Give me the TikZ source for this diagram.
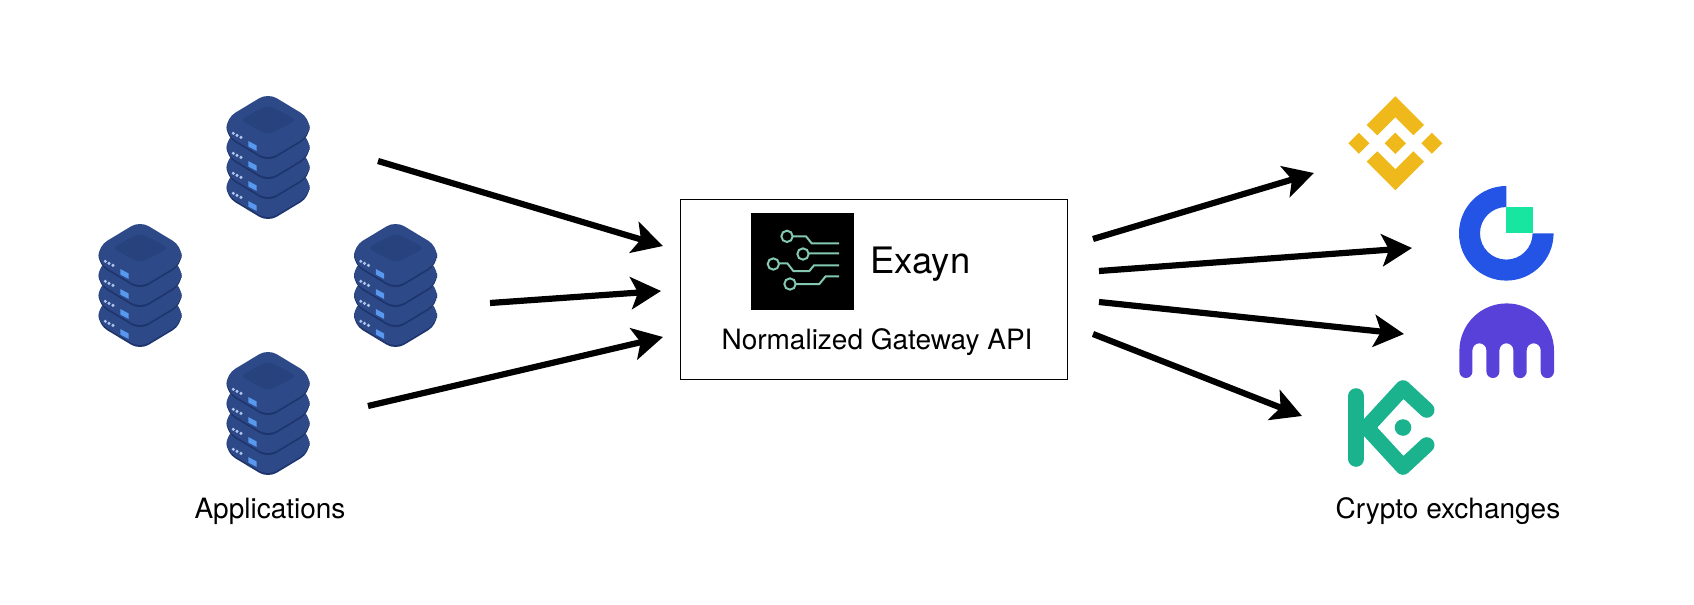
\documentclass[tikz,border=0pt]{standalone}
\usepackage{fontspec}
\setmainfont{TeX Gyre Heros}
\usepackage{xcolor}
\usetikzlibrary{arrows.meta,positioning}
\definecolor{SrvBody}{RGB}{45,73,136}
\definecolor{SrvDark}{RGB}{30,52,108}
\definecolor{SrvTop}{RGB}{40,66,126}
\definecolor{SrvLed}{RGB}{88,152,238}
\definecolor{SrvDot}{RGB}{176,198,238}
\definecolor{LogoLine}{RGB}{132,200,176}
\definecolor{BinanceGold}{RGB}{240,185,27}
\definecolor{GateBlue}{RGB}{35,84,230}
\definecolor{GateGreen}{RGB}{23,230,161}
\definecolor{KrakenViolet}{RGB}{87,65,217}
\definecolor{KucoinGreen}{RGB}{27,178,142}
\begin{document}
\begin{tikzpicture}[x=0.5pt,y=-0.5pt,
mybox/.style={draw=black,line width=0.5pt,minimum width=193.5pt,minimum height=90pt},
mylabel/.style={font=\fontsize{14}{16}\selectfont,text=black,inner sep=0pt},
arr/.style={-{Stealth[length=15pt,width=16pt,inset=3.5pt]},line width=3.1pt,draw=black},
logoline/.style={draw=LogoLine,line width=1pt},
server/.pic={
\foreach \dy in {60,40,20,0}{
\begin{scope}[shift={(0,\dy)}]
\fill[SrvDark,rounded corners=5pt] (0,0)--(41.5,24)--(41.5,41)--(0,66)--(-41.5,41)--(-41.5,24)--cycle;
\fill[SrvBody,rounded corners=5pt] (0,-3)--(41.5,22)--(41.5,39)--(0,64)--(-41.5,39)--(-41.5,22)--cycle;
\fill[SrvDot] (-34.7,37.3) circle[radius=1.7] (-31,39.4) circle[radius=1.7] (-27,41.4) circle[radius=1.7];
\fill[SrvLed] (-19.7,45)--(-11.3,49.5)--(-11.3,55)--(-19.7,50.5)--cycle;
\end{scope}}
\fill[SrvTop,rounded corners=3pt] (0,9)--(29,24)--(0,39)--(-28,24)--cycle;
}]
\useasboundingbox (0,0) rectangle (1694,605);
% applications
\pic (srvt) at (268,96) {server};
\pic (srvl) at (140,224) {server};
\pic (srvr) at (395.5,224) {server};
\pic (srvb) at (268,352) {server};
\node[mylabel] (apps) at (270,511) {Applications};
% gateway
\node[mybox] (gw) at (873.5,289) {};
\fill[black] (750.7,212.7) rectangle (854.3,310);
\begin{scope}[shift={(730,200)},scale=1/3]
\draw[logoline] (171,109) circle[radius=17] (189,109)--(228,109)--(245,130)--(327,130);
\draw[logoline] (219,162) circle[radius=17] (237,160)--(327,160);
\draw[logoline] (130,192) circle[radius=17] (148,190)--(172,190)--(190,213)--(238,213)--(252,196)--(327,196);
\draw[logoline] (180,252) circle[radius=17] (198,252)--(268,252)--(287,229)--(327,229);
\end{scope}
\node[mylabel,font=\fontsize{18.2}{20}\selectfont] (exayn) at (920.5,264) {Exayn};
\node[mylabel] (gwapi) at (877,342) {Normalized Gateway API};
% binance
\begin{scope}[shift={(1395.3,143.3)}]
\fill[BinanceGold] (0,-47)--(28.7,-18.3)--(18,-8)--(0,-26)--(-18,-8)--(-28.7,-18.3)--cycle;
\fill[BinanceGold] (0,47)--(28.7,18.3)--(18,8)--(0,26)--(-18,8)--(-28.7,18.3)--cycle;
\fill[BinanceGold] (0,-10.7)--(10.7,0)--(0,10.7)--(-10.7,0)--cycle;
\fill[BinanceGold] (-47,0)--(-36.5,-10.5)--(-26,0)--(-36.5,10.5)--cycle;
\fill[BinanceGold] (47,0)--(36.5,-10.5)--(26,0)--(36.5,10.5)--cycle;
\end{scope}
% gate
\begin{scope}[shift={(1506.3,233.3)}]
\fill[GateBlue] (47.3,0) arc[start angle=0,end angle=270,radius=47.3]--(0,-26.3) arc[start angle=270,end angle=0,radius=26.3]--cycle;
\fill[GateGreen] (0,0) rectangle (26.3,-26.3);
\end{scope}
% kraken
\begin{scope}[shift={(1506.7,350.7)}]
\fill[KrakenViolet] (-47.3,0) arc[start angle=180,end angle=360,radius=47.3]--(47.3,20.8)
arc[start angle=0,end angle=180,radius=6.65]--(34,-0.4)
arc[start angle=0,end angle=-180,radius=7]--(20,20.8)
arc[start angle=0,end angle=180,radius=6.65]--(6.7,-0.4)
arc[start angle=0,end angle=-180,radius=7]--(-7.3,20.8)
arc[start angle=0,end angle=180,radius=6.5]--(-20.3,-0.4)
arc[start angle=0,end angle=-180,radius=7]--(-34.3,20.8)
arc[start angle=0,end angle=180,radius=6.5]--cycle;
\end{scope}
% kucoin
\draw[KucoinGreen,line width=7.8pt,line cap=round] (1356.2,396)--(1356.2,459);
\draw[KucoinGreen,line width=7.8pt,line cap=round,line join=round] (1426.7,410)--(1403,388)--(1366.7,427.5)--(1403,467)--(1426.7,445);
\fill[KucoinGreen] (1403,427.5) circle[radius=8.3];
\node[mylabel] (cex) at (1448,511) {Crypto exchanges};
% connector ends
\coordinate (t1) at (378,161); \coordinate (g1) at (663,246);
\coordinate (t2) at (490,303); \coordinate (g2) at (661,291);
\coordinate (t3) at (368,406); \coordinate (g3) at (663,337);
\coordinate (o1) at (1093,239); \coordinate (x1) at (1314,173);
\coordinate (o2) at (1099,271); \coordinate (x2) at (1412,248);
\coordinate (o3) at (1099,302); \coordinate (x3) at (1404,334);
\coordinate (o4) at (1093,334); \coordinate (x4) at (1302,416);
\draw[arr] (t1)--(g1); \draw[arr] (t2)--(g2); \draw[arr] (t3)--(g3);
\draw[arr] (o1)--(x1); \draw[arr] (o2)--(x2); \draw[arr] (o3)--(x3); \draw[arr] (o4)--(x4);
\end{tikzpicture}
\end{document}
